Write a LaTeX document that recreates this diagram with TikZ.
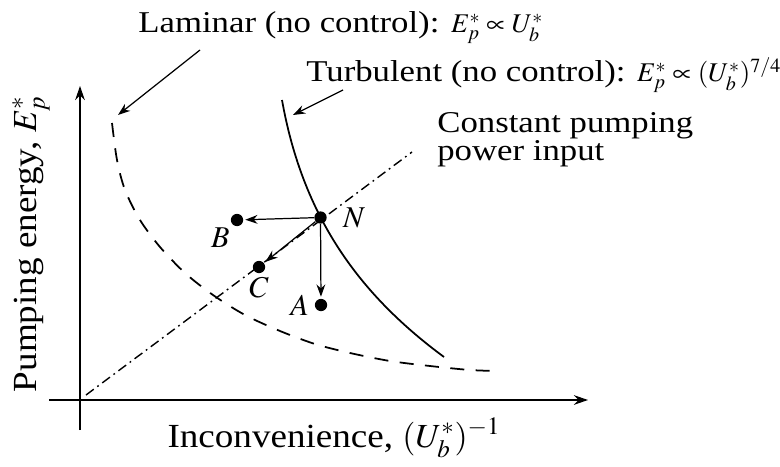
\documentclass[tikz,border=0pt]{standalone}
\usepackage{amsmath}
\usepackage{mathptmx}
\usepackage[no-math]{fontspec}
\setmainfont{Liberation Serif}[FakeStretch=1.1]
\newfontfamily\notefont{Liberation Serif}[FakeStretch=1.15]
\newcommand{\notemath}[1]{{\fontsize{15.4}{15}\selectfont$#1$}}
\usetikzlibrary{arrows.meta, positioning}

\begin{document}
\begin{tikzpicture}[
  x=0.02cm, y=-0.02cm,
  axis/.style={-{Stealth[length=8pt, width=5.5pt]}, line width=0.8pt},
  arrow/.style={-{Stealth[length=7pt, width=5pt]}, line width=0.7pt},
  laminar/.style={line width=1pt, dash pattern=on 8pt off 6.5pt},
  turbulent/.style={line width=1pt},
  power/.style={line width=0.8pt, dash pattern=on 5.5pt off 2.5pt on 1pt off 2.5pt},
  dot/.style={circle, fill, inner sep=0pt, minimum size=7pt},
  note/.style={font=\notefont\fontsize{17.2}{14.5}\selectfont, inner sep=0pt},
  axislabel/.style={font=\fontsize{19.2}{22}\selectfont, inner sep=0pt}
]
  \useasboundingbox (0,0) rectangle (780,466);

  % axes
  \coordinate (ybot) at (80,430);
  \coordinate (ytop) at (80,86);
  \coordinate (xleft) at (49,400);
  \coordinate (xright) at (588,400);
  \draw[axis] (ybot) -- (ytop);
  \draw[axis] (xleft) -- (xright);
  \node[axislabel, rotate=90] (ylab) at (31,244) {Pumping energy, $E_p^*$};
  \node[axislabel, anchor=base] (xlab) at (334,447) {Inconvenience, $(U_b^*)^{-1}$};

  % constant pumping power line
  \coordinate (pstart) at (86,395);
  \coordinate (pend) at (412,152);
  \draw[power] (pstart) -- (pend);

  % laminar and turbulent curves
  \draw[laminar] plot[smooth] coordinates {(112,123) (117,160) (125,190) (140,220)
    (160,247) (185,273) (213,295) (245,315) (280,331) (315,344) (350,353)
    (390,361) (430,366) (470,370) (498,371)};
  \draw[turbulent] (282,100) .. controls (303,218) and (360,295) .. (444,357);

  % operating points
  \node[dot, label={[note, label distance=9pt]right:$N$}] (N) at (320.5,217.5) {};
  \node[dot, label={[note, label distance=2pt]below left:$B$}] (B) at (237,220) {};
  \node[dot, label={[note, label distance=2pt]below:$C$}] (C) at (259,267) {};
  \node[dot, label={[note, label distance=3pt]left:$A$}] (A) at (321,305) {};
  \draw[arrow, shorten >=1pt] (N) -- (B);
  \draw[arrow, shorten >=1pt] (N) -- (C);
  \draw[arrow, shorten >=1pt] (N) -- (A);

  % annotations
  \node[note, anchor=base west] (lam) at (138,33)
    {Laminar (no control): \notemath{E_p^*\propto U_b^*}};
  \node[note, anchor=base west] (turb) at (306,82)
    {Turbulent (no control): \notemath{E_p^*\propto (U_b^*)^{7/4}}};
  \node[note, anchor=north west, align=left] (cpp) at (437,112)
    {Constant pumping\\power input};
  \coordinate (lamfoot) at (200,50);
  \coordinate (lamtip) at (118,115);
  \coordinate (turbfoot) at (343,90);
  \coordinate (turbtip) at (293,115);
  \draw[arrow] (lamfoot) -- (lamtip);
  \draw[arrow] (turbfoot) -- (turbtip);
\end{tikzpicture}
\end{document}
